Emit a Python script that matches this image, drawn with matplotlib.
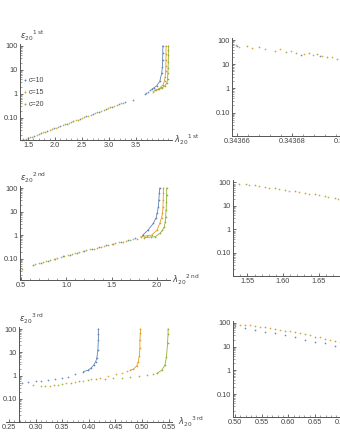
import matplotlib
matplotlib.use('Agg')
import matplotlib.pyplot as plt
from matplotlib.ticker import FixedLocator, MultipleLocator, LogLocator, NullFormatter

# colours (c=10, c=15, c=20)
C10, C15, C20 = '#5E81B5', '#E19C24', '#8FB032'
series_labels = ['c=10', 'c=15', 'c=20']

# ---------------- 1st : left panel ----------------
tl_c10_x = [1.38, 1.50, 1.62, 1.74, 1.86, 1.98, 2.10, 2.22, 2.34, 2.46, 2.58, 2.70, 2.82, 2.94, 3.06, 3.18, 3.30, 3.44, 3.66, 3.685, 3.73, 3.76]
tl_c10_y = [0.0121, 0.0143, 0.0181, 0.0228, 0.0288, 0.0363, 0.0458, 0.0578, 0.0729, 0.092, 0.116, 0.147, 0.185, 0.233, 0.294, 0.372, 0.469, 0.56, 0.95, 1.07, 1.26, 1.4]
tl_c10_bx = [3.79, 3.84, 3.88, 3.94, 3.976, 3.99, 3.994, 3.996, 3.997]
tl_c10_by = [1.55, 1.85, 2.15, 3.3, 7.3, 13.7, 26, 49, 100]
tl_c15_x = [1.42, 1.54, 1.66, 1.78, 1.90, 2.02, 2.14, 2.26, 2.38, 2.50, 2.62, 2.74, 2.86, 2.98, 3.10, 3.22]
tl_c15_y = [0.0122, 0.0155, 0.0195, 0.0247, 0.0311, 0.0393, 0.0495, 0.0625, 0.0789, 0.0995, 0.126, 0.158, 0.2, 0.252, 0.318, 0.402]
tl_c15_bx = [3.82, 3.87, 3.91, 3.96, 4.0, 4.03, 4.04, 4.05, 4.053, 4.055, 4.056, 4.056]
tl_c15_by = [1.26, 1.4, 1.55, 1.9, 2.4, 3.6, 5.3, 9, 14, 25, 45, 100]
tl_c20_x = [1.46, 1.58, 1.70, 1.82, 1.94, 2.06, 2.18, 2.30, 2.42, 2.54, 2.66, 2.78, 2.90, 3.02, 3.14, 3.26]
tl_c20_y = [0.0132, 0.0167, 0.0211, 0.0266, 0.0336, 0.0424, 0.0535, 0.0675, 0.0851, 0.107, 0.136, 0.171, 0.216, 0.273, 0.344, 0.435]
tl_c20_bx = [3.85, 3.92, 3.98, 4.03, 4.07, 4.085, 4.09, 4.095, 4.098, 4.1, 4.1, 4.1]
tl_c20_by = [1.4, 1.6, 1.75, 2.1, 2.8, 4.2, 7.2, 12, 22, 40, 70, 100]

# ---------------- 2nd : left panel ----------------
ml_c10_x = [0.63, 0.72, 0.80, 0.88, 0.96, 1.04, 1.12, 1.20, 1.28, 1.36, 1.44, 1.52, 1.60, 1.68, 1.76]
ml_c10_y = [0.054, 0.068, 0.083, 0.1, 0.123, 0.148, 0.178, 0.214, 0.257, 0.309, 0.363, 0.437, 0.525, 0.631, 0.776]
ml_c10_bx = [1.84, 1.90, 1.96, 1.99, 2.0, 2.015, 2.02, 2.025, 2.03]
ml_c10_by = [0.977, 1.62, 3.16, 5.5, 8.3, 16, 31, 60, 100]
ml_c15_x = [0.70, 0.78, 0.86, 0.94, 1.02, 1.10, 1.18, 1.26, 1.34, 1.42, 1.50, 1.58, 1.66, 1.74]
ml_c15_y = [0.065, 0.078, 0.095, 0.115, 0.141, 0.170, 0.204, 0.245, 0.295, 0.347, 0.417, 0.49, 0.589, 0.708]
ml_c15_bx = [1.82, 1.89, 1.94, 2.0, 2.03, 2.05, 2.06, 2.065, 2.068, 2.07, 2.07]
ml_c15_by = [0.851, 0.93, 1.0, 1.62, 3.16, 5.5, 8.3, 15, 31, 60, 100]
ml_c20_x = [0.49, 0.51, 0.66, 0.74, 0.82, 0.90, 0.98, 1.06, 1.14, 1.22, 1.30, 1.38, 1.46, 1.54, 1.62, 1.70, 1.78]
ml_c20_y = [0.032, 0.035, 0.059, 0.071, 0.087, 0.105, 0.129, 0.155, 0.186, 0.224, 0.269, 0.324, 0.38, 0.447, 0.525, 0.603, 0.692]
ml_c20_bx = [1.86, 1.93, 1.98, 2.03, 2.06, 2.08, 2.09, 2.095, 2.1, 2.104, 2.106, 2.107]
ml_c20_by = [0.776, 0.83, 0.85, 1.17, 1.6, 2.24, 3.5, 6.0, 12, 25, 50, 100]

# ---------------- 3rd : left panel ----------------
bl_c10_x = [0.275, 0.286, 0.30, 0.311, 0.324, 0.336, 0.349, 0.361, 0.374]
bl_c10_y = [0.5, 0.52, 0.56, 0.60, 0.65, 0.71, 0.81, 0.89, 1.14]
bl_c10_bx = [0.39, 0.399, 0.405, 0.409, 0.413, 0.415, 0.417, 0.418, 0.418, 0.418]
bl_c10_by = [1.5, 1.7, 2.2, 2.8, 4.0, 5.5, 12, 34, 60, 100]
bl_c15_x = [0.311, 0.327, 0.343, 0.358, 0.374, 0.39, 0.405, 0.421, 0.437, 0.452, 0.462, 0.471]
bl_c15_y = [0.37, 0.37, 0.40, 0.50, 0.54, 0.60, 0.69, 0.83, 1.0, 1.17, 1.32, 1.51]
bl_c15_bx = [0.478, 0.484, 0.49, 0.493, 0.495, 0.496, 0.496, 0.497, 0.497]
bl_c15_by = [1.7, 1.9, 2.6, 4.0, 7, 15, 35, 70, 100]
bl_c20_x = [0.295, 0.318, 0.334, 0.35, 0.366, 0.382, 0.398, 0.414, 0.43, 0.446, 0.462, 0.478, 0.494, 0.51, 0.52]
bl_c20_y = [0.38, 0.355, 0.40, 0.45, 0.50, 0.56, 0.63, 0.69, 0.74, 0.78, 0.81, 0.87, 0.93, 1.05, 1.15]
bl_c20_bx = [0.528, 0.537, 0.543, 0.546, 0.548, 0.549, 0.549]
bl_c20_by = [1.25, 1.7, 2.8, 6.3, 25, 60, 100]

# ---------------- right panels ----------------
tr_c10_x = [0.3436600, 0.3436830, 0.3436900]
tr_c10_y = [58, 24, 21]
tr_c15_x = [0.3436607, 0.3436653, 0.3436699, 0.3436756, 0.3436793, 0.3436841, 0.3436874, 0.3436908, 0.3436944]
tr_c15_y = [50, 45, 41, 41, 36, 26, 24, 22, 19]
tr_c20_x = [0.3436593, 0.3436635, 0.3436677, 0.3436738, 0.3436775, 0.3436811, 0.3436860, 0.3436890, 0.3436926, 0.3436963]
tr_c20_y = [62, 56, 53, 36, 33, 30, 30, 26, 20, 17]

mr_c15_x = [1.552, 1.566, 1.580, 1.594, 1.608, 1.622, 1.636, 1.650, 1.664, 1.678]
mr_c15_y = [78, 70, 61, 53, 45, 39, 33, 28, 24, 20]
mr_c20_x = [1.538, 1.548, 1.561, 1.575, 1.589, 1.603, 1.617, 1.631, 1.645, 1.659, 1.673]
mr_c20_y = [90, 84, 76, 67, 58, 50, 43, 36, 31, 26, 22]

br_c10_x = [0.500, 0.519, 0.537, 0.556, 0.575, 0.594, 0.612, 0.631, 0.650, 0.669, 0.687]
br_c10_y = [74, 60, 50, 43, 36, 31, 26, 20, 16, 14, 11]
br_c15_x = [0.510, 0.528, 0.547, 0.566, 0.585, 0.603, 0.622, 0.641, 0.660, 0.678, 0.696]
br_c15_y = [86, 80, 70, 62, 53, 45, 37, 30, 25, 20, 16]
br_c20_x = [0.500, 0.519, 0.537, 0.556, 0.575, 0.594, 0.612, 0.631, 0.650, 0.669, 0.687]
br_c20_y = [91, 83, 75, 66, 56, 48, 41, 33, 26, 22, 18]

y_ticks = [0.1, 1, 10, 100]
y_ticklabels = ['0.10', '1', '10', '100']

plt.rcParams['font.family'] = ['Liberation Sans', 'DejaVu Sans']
plt.rcParams['mathtext.fontset'] = 'dejavusans'
W, H = 340, 440
AXC = '#555555'
TXC = '#444444'

fig = plt.figure(figsize=(W / 100, H / 100), dpi=100)


def make_ax(left, bottom, width, height, xlim, ylim, xticks, xticklabels, xminor, yspine=None):
    ax = fig.add_axes([left / W, 1 - bottom / H, width / W, height / H])
    ax.set_yscale('log')
    ax.set_xlim(*xlim)
    ax.set_ylim(*ylim)
    for s in ['top', 'right']:
        ax.spines[s].set_visible(False)
    for s in ['left', 'bottom']:
        ax.spines[s].set_color(AXC)
        ax.spines[s].set_linewidth(0.7)
    if yspine is not None:
        ax.spines['left'].set_position(('data', yspine))
    ax.yaxis.set_major_locator(FixedLocator(y_ticks))
    ax.set_yticklabels(y_ticklabels)
    ax.yaxis.set_minor_locator(LogLocator(base=10, subs=range(2, 10)))
    ax.yaxis.set_minor_formatter(NullFormatter())
    ax.xaxis.set_major_locator(FixedLocator(xticks))
    ax.set_xticklabels(xticklabels)
    ax.xaxis.set_minor_locator(MultipleLocator(xminor))
    ax.tick_params(which='major', direction='in', length=2.5, width=0.6, color=AXC,
                   labelsize=5.3, labelcolor=TXC, pad=1.5)
    ax.tick_params(which='minor', direction='in', length=1.2, width=0.4, color=AXC)
    ax.patch.set_alpha(0)
    return ax


def draw(ax, sx, sy, bx, by, color):
    ax.plot(sx, sy, 'o', ms=1.25, mew=0, color=color, alpha=0.9, clip_on=False)
    if bx:
        ax.plot(bx, by, '-', lw=0.6, color=color, clip_on=False)
        ax.plot(bx, by, 'o', ms=1.2, mew=0, color=color, clip_on=False)


def labels(ax, order, xs=None, xoff=1.01):
    ylab = r'$\epsilon_{20}^{\ \ \ \ %s}$' % order
    xlab = r'$\lambda_{20}^{\ \ \ \ %s}$' % order
    if xs is None:
        ax.text(0.0, 1.01, ylab, transform=ax.transAxes, ha='left', va='bottom',
                fontsize=6, color=TXC)
    else:
        ax.text(xs, 1.01, ylab, transform=ax.get_xaxis_transform(), ha='left',
                va='bottom', fontsize=6, color=TXC)
    ax.text(xoff, 0.0, xlab, transform=ax.transAxes, ha='left', va='center',
            fontsize=6, color=TXC)


# top-left
ax1 = make_ax(20, 140, 152, 96, (1.352, 4.167), (10 ** -1.92, 10 ** 2.08),
              [1.5, 2.0, 2.5, 3.0, 3.5], ['1.5', '2.0', '2.5', '3.0', '3.5'], 0.1)
draw(ax1, tl_c10_x, tl_c10_y, tl_c10_bx, tl_c10_by, C10)
draw(ax1, tl_c15_x, tl_c15_y, tl_c15_bx, tl_c15_by, C15)
draw(ax1, tl_c20_x, tl_c20_y, tl_c20_bx, tl_c20_by, C20)
labels(ax1, r'1\,\mathrm{st}')
for i, (lab, col) in enumerate(zip(series_labels, [C10, C15, C20])):
    yy = 0.625 - i * 0.125
    ax1.plot([0.033], [yy], 'o', ms=1.4, mew=0, color=col, transform=ax1.transAxes)
    ax1.text(0.055, yy, lab, transform=ax1.transAxes, fontsize=5, color=TXC,
             va='center', ha='left')

# middle-left
ax2 = make_ax(20, 280, 150, 93.8, (0.49, 2.143), (10 ** -1.91, 10 ** 2.08),
              [0.5, 1.0, 1.5, 2.0], ['0.5', '1.0', '1.5', '2.0'], 0.1)
draw(ax2, ml_c10_x, ml_c10_y, ml_c10_bx, ml_c10_by, C10)
draw(ax2, ml_c15_x, ml_c15_y, ml_c15_bx, ml_c15_by, C15)
draw(ax2, ml_c20_x, ml_c20_y, ml_c20_bx, ml_c20_by, C20)
labels(ax2, r'2\,\mathrm{nd}')

# bottom-left
ax3 = make_ax(6.3, 422, 165.5, 95, (0.245, 0.556), (10 ** -1.99, 10 ** 2.086),
              [0.25, 0.30, 0.35, 0.40, 0.45, 0.50, 0.55],
              ['0.25', '0.30', '0.35', '0.40', '0.45', '0.50', '0.55'], 0.01, yspine=0.2688)
draw(ax3, bl_c10_x, bl_c10_y, bl_c10_bx, bl_c10_by, C10)
draw(ax3, bl_c15_x, bl_c15_y, bl_c15_bx, bl_c15_by, C15)
draw(ax3, bl_c20_x, bl_c20_y, bl_c20_bx, bl_c20_by, C20)
labels(ax3, r'3\,\mathrm{rd}', xs=0.2688, xoff=1.035)

# top-right
ax4 = make_ax(232, 136, 160, 98, (0.343658, 0.3437162), (10 ** -1.97, 10 ** 2.083),
              [0.34366, 0.34368, 0.34370], ['0.34366', '0.34368', '0.34370'], 0.000004)
draw(ax4, tr_c10_x, tr_c10_y, None, None, C10)
draw(ax4, tr_c15_x, tr_c15_y, None, None, C15)
draw(ax4, tr_c20_x, tr_c20_y, None, None, C20)

# middle-right
ax5 = make_ax(233, 276, 160, 95.5, (1.5296, 1.7549), (10 ** -1.98, 10 ** 2.085),
              [1.55, 1.60, 1.65, 1.70], ['1.55', '1.60', '1.65', '1.70'], 0.01)
draw(ax5, mr_c15_x, mr_c15_y, None, None, C15)
draw(ax5, mr_c20_x, mr_c20_y, None, None, C20)

# bottom-right
ax6 = make_ax(233, 417, 160, 96, (0.4963, 0.7959), (10 ** -1.97, 10 ** 2.084),
              [0.50, 0.55, 0.60, 0.65, 0.70], ['0.50', '0.55', '0.60', '0.65', '0.70'], 0.01)
draw(ax6, br_c10_x, br_c10_y, None, None, C10)
draw(ax6, br_c15_x, br_c15_y, None, None, C15)
draw(ax6, br_c20_x, br_c20_y, None, None, C20)

fig.savefig('out.png', dpi=100)
